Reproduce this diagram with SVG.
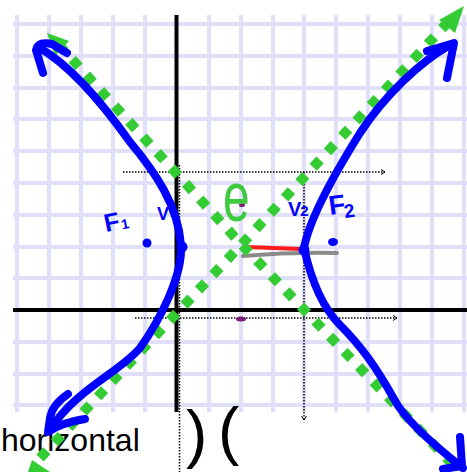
<svg xmlns="http://www.w3.org/2000/svg" width="467" height="472" viewBox="0 0 467 472">
<defs>
<style>
.grid{stroke:#dfdffa;stroke-width:4;fill:none}
.axis{stroke:#000;stroke-width:4;fill:none}
.dot{stroke:#000;stroke-width:1.5;stroke-dasharray:1.5 1.5;fill:none}
.asym{stroke:#33cc33;stroke-width:10;stroke-dasharray:10 11;fill:none}
.garrow{fill:#33cc33}
.blue{stroke:#0000ff;stroke-width:8;fill:none;stroke-linecap:round;stroke-linejoin:round}
.bl{fill:#0000ff;font-family:"Liberation Sans",Arial,sans-serif;font-weight:bold}
.hand{fill:#000;font-family:"Liberation Sans",Arial,sans-serif}
</style>
<marker id="tick" viewBox="0 0 6 6" refX="5" refY="3" markerWidth="6" markerHeight="6" markerUnits="userSpaceOnUse" orient="auto">
<path d="M1,0.5 L5,3 L1,5.5" stroke="#000" stroke-width="1" fill="none"/>
</marker>
</defs>
<rect width="467" height="472" fill="#fff"/>
<g id="grid">
<path class="grid" d="M13,24H467M13,56H467M13,88H467M13,119H467M13,151H467M13,183H467M13,215H467M13,247H467M13,278H467M13,342H467M13,374H467M13,405H467"/>
<path class="grid" d="M17,15V412M49,15V412M81,15V412M113,15V412M145,15V412M209,15V412M241,15V412M273,15V412M304,15V412M336,15V412M368,15V412M400,15V412M432,15V412M464,15V412"/>
</g>
<g id="labels-under">
<text class="bl" x="157" y="220" font-size="18">V<tspan font-size="12" dx="3">1</tspan></text>
</g>
<g id="axes">
<path class="axis" d="M176.5,15V412"/>
<path class="axis" d="M13,310H467"/>
</g>
<g id="connectors">
<path class="dot" d="M123,172H385" marker-end="url(#tick)"/>
<path class="dot" d="M135,318H397" marker-end="url(#tick)"/>
<path class="dot" d="M304,172V420" marker-end="url(#tick)"/>
<path class="dot" d="M179.5,165V472"/>
</g>
<g id="notes">
<text class="hand" x="1" y="451" font-size="32">horizontal</text>
<text class="hand" x="186" y="456" font-size="64">)</text>
<text class="hand" x="218" y="453" font-size="64">(</text>
</g>
<g id="segments">
<path d="M243,256 Q290,252 337,253" stroke="#8a8a8a" stroke-width="4" fill="none" stroke-linecap="round"/>
<path d="M245,247 L302,249" stroke="#ff1a1a" stroke-width="4" fill="none" stroke-linecap="round"/>
<ellipse cx="242" cy="205" rx="3" ry="2" fill="#7a1a7a"/>
<ellipse cx="241" cy="319" rx="5" ry="2.5" fill="#7a1a7a"/>
</g>
<g id="asymptotes">
<polyline class="asym" points="58,44 242,245 458,470"/>
<polyline class="asym" points="40,458 241,245 450,20"/>
<polygon class="garrow" points="47,33 69,41 55,56"/>
<polygon class="garrow" points="464,6 439,20 455,33"/>
<polygon class="garrow" points="32,460 50,472 24,484"/>
</g>
<g id="center-label">
<text transform="translate(223,221) scale(1,1.45)" font-family="Liberation Sans,Arial,sans-serif" font-size="48" fill="#3ec93e">e</text>
</g>
<g id="left-branch">
<path class="blue" d="M38,47 C70,65 100,100 130,142 C155,172 178,205 181,245 C183,275 160,320 140,348 C120,372 75,390 50,430"/>
<path class="blue" d="M43,73 L36,50 Q38,41 52,44 L67,53"/>
<path class="blue" d="M68,394 Q52,405 50,418 L48,432 Q60,423 85,419"/>
<circle cx="182" cy="247" r="5.5" fill="#0000ff"/>
</g>
<g id="right-branch">
<path class="blue" d="M450,45 C420,62 385,95 360,133 C340,165 310,215 304,248 C310,275 320,305 340,325 C360,345 375,365 394,399 C405,420 440,450 463,468"/>
<path class="blue" d="M427,51 L454,43 L447,78"/>
<path class="blue" d="M460,437 L462,466 L443,469"/>
<circle cx="304" cy="250" r="5.5" fill="#0000ff"/>
</g>
<g id="foci">
<circle cx="147" cy="243" r="4.5" fill="#0000ff"/>
<ellipse cx="333" cy="242" rx="5" ry="4" fill="#0000ff"/>
</g>
<g id="blue-labels">
<text class="bl" x="0" y="0" font-size="25" transform="translate(106,232) rotate(-12)">F<tspan font-size="14" dx="1" dy="1">1</tspan></text>
<text class="bl" x="288" y="216" font-size="20">V<tspan font-size="15" dx="-1">2</tspan></text>
<text class="bl" x="0" y="0" font-size="27" transform="translate(330,215) rotate(-8)">F<tspan font-size="19" dx="-2" dy="5">2</tspan></text>
</g>
</svg>
